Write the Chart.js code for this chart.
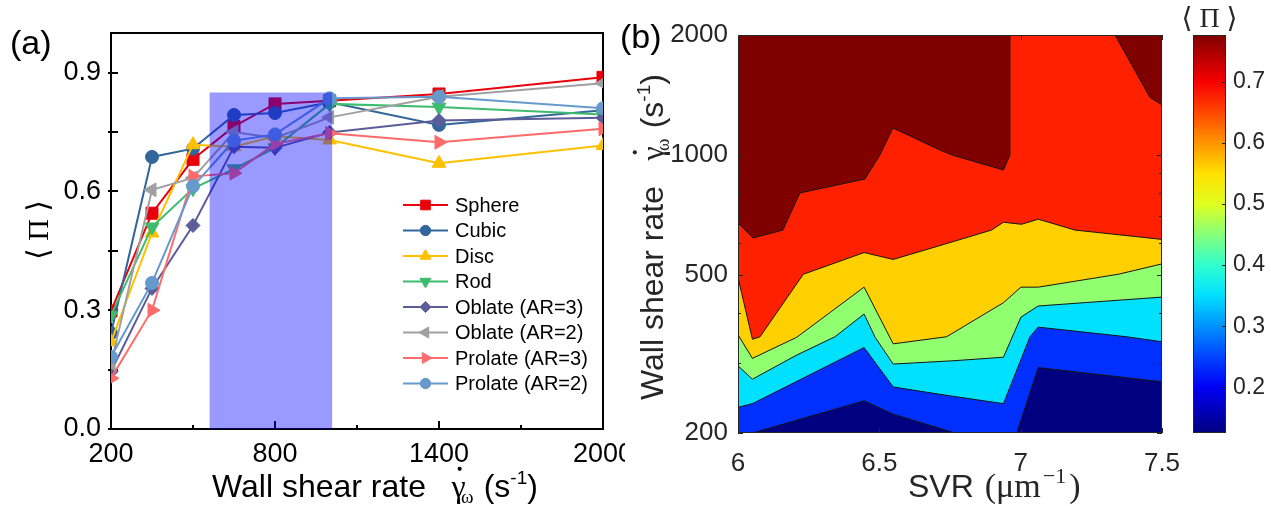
<!DOCTYPE html>
<html>
<head>
<meta charset="utf-8">
<title>Particle shape and SVR dependence of ⟨Π⟩</title>
<script src="https://cdn.jsdelivr.net/npm/chart.js@4.4.1/dist/chart.umd.min.js"></script>
<style>
  html, body { margin: 0; padding: 0; background: #fff; }
  #page { position: relative; width: 1271px; height: 506px; overflow: hidden; background: #fff; }
  #page canvas { position: absolute; top: 0; }
  #lineChart { left: 0; }
  #contourChart { left: 615px; }
  #cbarChart { left: 1180px; }
</style>
</head>
<body>
<div id="page">
  <canvas id="lineChart" width="625" height="506"></canvas>
  <canvas id="contourChart" width="570" height="506"></canvas>
  <canvas id="cbarChart" width="91" height="506"></canvas>
</div>
<script>
// ---------- panel (a): <Pi> against wall shear rate, one line per shape ----------
const shearRates = [200, 350, 500, 650, 800, 1000, 1400, 2000];
const shapeNames = ['Sphere', 'Cubic', 'Disc', 'Rod', 'Oblate (AR=3)', 'Oblate (AR=2)', 'Prolate (AR=3)', 'Prolate (AR=2)'];
const sphere   = [0.298, 0.545, 0.681, 0.764, 0.821, 0.829, 0.846, 0.888];
const cubic    = [0.242, 0.687, 0.708, 0.793, 0.798, 0.825, 0.768, 0.805];
const disc     = [0.220, 0.495, 0.718, 0.713, 0.739, 0.730, 0.671, 0.716];
const rod      = [0.287, 0.510, 0.607, 0.657, 0.710, 0.821, 0.813, 0.794];
const oblate3  = [0.145, 0.355, 0.514, 0.713, 0.710, 0.749, 0.779, 0.786];
const oblate2  = [0.165, 0.604, 0.634, 0.750, 0.735, 0.787, 0.839, 0.873];
const prolate3 = [0.128, 0.300, 0.638, 0.646, 0.720, 0.747, 0.724, 0.758];
const prolate2 = [0.182, 0.369, 0.613, 0.728, 0.744, 0.835, 0.839, 0.810];
const shearTicks = [200, 500, 800, 1100, 1400, 1700, 2000];
const shearLabels = [200, 800, 1400, 2000];
const piTicks = [0, 0.15, 0.3, 0.45, 0.6, 0.75, 0.9];
const piLabels = [0, 0.3, 0.6, 0.9];
// shaded shear-rate window
const windowRates = [560, 1010];
const windowTop = 0.85;

// ---------- panel (b): filled contours of <Pi> over SVR and wall shear rate ----------
const svrTicks = [6, 6.5, 7, 7.5];
const rateTicks = [200, 300, 400, 500, 600, 700, 800, 900, 1000, 2000];
const rateLabels = [200, 500, 1000, 2000];
// upper edge of each filled band, top band first
const edge0SVR  = [6.0, 7.5];
const edge0Rate = [2000, 2000];
const edge1SVR  = [6.0, 6.053, 6.159, 6.219, 6.449, 6.502, 6.548, 6.715, 6.757, 6.939, 6.962, 6.962, 7.334, 7.457, 7.5];
const edge1Rate = [674, 618, 647, 802, 869, 999, 1168, 1028, 999, 916, 999, 2000, 2000, 1395, 1334];
const edge2SVR  = [6.0, 6.051, 6.078, 6.231, 6.446, 6.549, 6.73, 6.897, 6.939, 7.003, 7.062, 7.192, 7.5];
const edge2Rate = [492, 344, 349, 501, 568, 546, 596, 647, 677, 669, 689, 647, 613];
const edge3SVR  = [6.0, 6.051, 6.208, 6.446, 6.549, 6.738, 6.939, 7.001, 7.062, 7.345, 7.5];
const edge3Rate = [353, 308, 348, 465, 335, 349, 425, 465, 465, 501, 532];
const edge4SVR  = [6.0, 6.051, 6.208, 6.343, 6.446, 6.485, 6.549, 6.768, 6.939, 7.001, 7.062, 7.5];
const edge4Rate = [295, 273, 314, 349, 398, 348, 298, 304, 310, 391, 417, 439];
const edge5SVR  = [6.0, 6.051, 6.446, 6.549, 6.732, 6.939, 7.033, 7.062, 7.375, 7.5];
const edge5Rate = [232, 237, 328, 261, 249, 237, 349, 369, 349, 339];
const edge6SVR  = [6.0, 6.051, 6.446, 6.549, 6.768, 6.986, 7.062, 7.5];
const edge6Rate = [200, 200, 241, 223, 200, 200, 292, 269];
const cbarMin = 0.125;
const cbarMax = 0.777;
const cbarTicks = [0.2, 0.3, 0.4, 0.5, 0.6, 0.7];

// ---------- styling ----------
const SANS = "'Liberation Sans', Arial, sans-serif";
const SERIF = "'Liberation Serif', 'DejaVu Serif', serif";
const GREY = '#262626';
Chart.defaults.font.family = SANS;

const shapeSeries = [sphere, cubic, disc, rod, oblate3, oblate2, prolate3, prolate2];
const shapeColors = ['#e8000b', '#33669a', '#ffc000', '#3dbb6e', '#5c5c99', '#a0a0a0', '#ff6b6b', '#6699cc'];
const shapeMarkers = [
  { style: 'rect', rot: 0, r: 8.5 },
  { style: 'circle', rot: 0, r: 6.5 },
  { style: 'triangle', rot: 0, r: 8 },
  { style: 'triangle', rot: 180, r: 8 },
  { style: 'rectRot', rot: 0, r: 7 },
  { style: 'triangle', rot: 270, r: 8 },
  { style: 'triangle', rot: 90, r: 8 },
  { style: 'circle', rot: 0, r: 6.5 },
];
const bandColors = ['#800000', '#ff2000', '#ffd000', '#90ff70', '#00e0ff', '#0030ff', '#000080'];
const bandEdges = [
  [edge0SVR, edge0Rate], [edge1SVR, edge1Rate], [edge2SVR, edge2Rate], [edge3SVR, edge3Rate],
  [edge4SVR, edge4Rate], [edge5SVR, edge5Rate], [edge6SVR, edge6Rate],
];
const cbarStops = [
  [0.125, '#000080'], [0.2, '#0000f5'], [0.25, '#0044ff'], [0.3, '#0092ff'], [0.35, '#00e0ff'],
  [0.4, '#30ffcf'], [0.45, '#86ff7a'], [0.5, '#e0ff20'], [0.55, '#ffe000'], [0.6, '#ff9500'],
  [0.65, '#ff4700'], [0.7, '#f80000'], [0.75, '#aa0000'], [0.777, '#800000'],
];

// keep the plot box where it is, whatever the end labels need
const noEdgePadding = s => { s.paddingLeft = 0; s.paddingRight = 0; s.paddingTop = 0; s.paddingBottom = 0; };

// text made of pieces (sub/superscripts, mixed fonts), drawn left to right from (x, y)
function drawParts(ctx, x, y, angle, parts, color) {
  ctx.save();
  ctx.translate(x, y);
  ctx.rotate(angle);
  ctx.fillStyle = color;
  ctx.textAlign = 'left';
  ctx.textBaseline = 'alphabetic';
  let cx = 0;
  for (const p of parts) {
    ctx.font = p.font;
    cx += p.gap || 0;
    ctx.fillText(p.text, cx, p.dy || 0);
    const w = ctx.measureText(p.text).width;
    if (p.dot) {
      ctx.beginPath();
      ctx.arc(cx + w / 2 + p.dot[0], p.dot[1], p.dot[2], 0, Math.PI * 2);
      ctx.fill();
    }
    cx += w;
  }
  ctx.restore();
}

function shearTitle(size) {
  const small = Math.round(size * 0.6);
  return [
    { text: 'Wall shear rate', font: `${size}px ${SANS}` },
    { text: 'γ', font: `${size}px ${SERIF}`, gap: 0.8 * size, dot: [1, -0.88 * size, 0.065 * size] },
    { text: 'ω', font: `${small}px ${SERIF}`, gap: -0.15 * size, dy: 0.2 * size },
    { text: '(s', font: `${size}px ${SANS}`, gap: 0.32 * size },
    { text: '-1', font: `${small}px ${SANS}`, dy: -0.42 * size },
    { text: ')', font: `${size}px ${SANS}` },
  ];
}

// ---------- panel (a) ----------
const lineSets = shapeNames.map((name, i) => ({
  label: name,
  data: shearRates.map((x, k) => ({ x, y: shapeSeries[i][k] })),
  borderColor: shapeColors[i],
  backgroundColor: shapeColors[i],
  borderWidth: 2,
  pointStyle: shapeMarkers[i].style,
  pointRotation: shapeMarkers[i].rot,
  pointRadius: shapeMarkers[i].r,
  pointBorderWidth: 1,
  fill: false,
  order: 20 - i,
}));
// translucent window drawn over the lines
lineSets.push({
  label: '',
  data: windowRates.map(x => ({ x, y: windowTop })),
  borderWidth: 0,
  pointRadius: 0,
  fill: 'origin',
  backgroundColor: 'rgba(0, 0, 255, 0.4)',
  order: 0,
});

const frameA = {
  id: 'frameA',
  beforeDatasetsDraw(chart) {
    const { ctx, chartArea: a, scales: { x, y } } = chart;
    ctx.save();
    ctx.strokeStyle = '#000';
    ctx.lineWidth = 2;
    ctx.strokeRect(a.left, a.top, a.right - a.left, a.bottom - a.top);
    ctx.beginPath();
    piTicks.forEach(v => {
      const py = Math.round(y.getPixelForValue(v));
      ctx.moveTo(a.left - 3, py);
      ctx.lineTo(a.left + 7, py);
    });
    shearTicks.forEach(v => {
      const px = Math.round(x.getPixelForValue(v));
      ctx.moveTo(px, a.bottom);
      ctx.lineTo(px, a.bottom - (shearLabels.includes(v) ? 8 : 4));
    });
    ctx.stroke();
    ctx.restore();
  },
  afterDraw(chart) {
    const ctx = chart.ctx;
    // legend: line sample with marker, then name
    chart.data.datasets.forEach((ds, i) => {
      if (!ds.label) return;
      const ly = 205 + i * 25.5;
      ctx.save();
      ctx.strokeStyle = ds.borderColor;
      ctx.fillStyle = ds.backgroundColor;
      ctx.lineWidth = 2;
      ctx.beginPath();
      ctx.moveTo(403, ly);
      ctx.lineTo(448, ly);
      ctx.stroke();
      ctx.lineWidth = 1;
      Chart.helpers.drawPoint(ctx, {
        pointStyle: ds.pointStyle, rotation: ds.pointRotation,
        radius: ds.pointRadius * 0.8, borderWidth: 1,
      }, 425.5, ly);
      ctx.fillStyle = '#000';
      ctx.font = `20px ${SANS}`;
      ctx.textBaseline = 'middle';
      ctx.textAlign = 'left';
      ctx.fillText(ds.label, 455, ly + 1);
      ctx.restore();
    });
    // panel letter and axis titles
    ctx.save();
    ctx.fillStyle = '#000';
    ctx.font = `34px ${SANS}`;
    ctx.textAlign = 'left';
    ctx.textBaseline = 'alphabetic';
    ctx.fillText('(a)', 10, 54);
    ctx.translate(48, 230);
    ctx.rotate(-Math.PI / 2);
    ctx.textAlign = 'center';
    ctx.font = `30px ${SERIF}`;
    ctx.fillText('⟨ Π ⟩', 0, 0);
    ctx.restore();
    drawParts(ctx, 212, 497, 0, shearTitle(32), '#000');
  },
};

new Chart(document.getElementById('lineChart'), {
  type: 'line',
  data: { datasets: lineSets },
  options: {
    responsive: false,
    animation: false,
    events: [],
    layout: { padding: { left: 0, right: 22, top: 33, bottom: 0 } },
    plugins: { legend: { display: false }, tooltip: { enabled: false } },
    scales: {
      x: {
        type: 'linear', min: 200, max: 2000,
        afterBuildTicks: s => { s.ticks = shearTicks.map(value => ({ value })); },
        afterFit: s => { s.height = 77; noEdgePadding(s); },
        grid: { display: false, drawTicks: false },
        border: { display: false },
        ticks: {
          autoSkip: false, maxRotation: 0, padding: 9, color: '#000',
          font: { size: 27 },
          callback: v => (shearLabels.includes(v) ? String(v) : ''),
        },
      },
      y: {
        type: 'linear', min: 0, max: 1.0,
        afterBuildTicks: s => { s.ticks = piTicks.map(value => ({ value })); },
        afterFit: s => { s.width = 111; noEdgePadding(s); },
        grid: { display: false, drawTicks: false },
        border: { display: false },
        ticks: {
          autoSkip: false, padding: 10, color: '#000',
          font: { size: 27 },
          callback: v => (piLabels.some(l => Math.abs(l - v) < 1e-9) ? v.toFixed(1) : ''),
        },
      },
    },
  },
  plugins: [frameA],
});

// ---------- panel (b) ----------
const bandSets = bandEdges.map(([xs, ys], i) => ({
  data: xs.map((x, k) => ({ x, y: ys[k] })),
  borderColor: '#151515',
  borderWidth: i === 0 ? 0 : 1,
  backgroundColor: bandColors[i],
  pointRadius: 0,
  fill: 'start',
  order: 20 - i,
}));

const frameB = {
  id: 'frameB',
  afterDatasetsDraw(chart) {
    const { ctx, chartArea: a, scales: { x, y } } = chart;
    ctx.save();
    ctx.strokeStyle = GREY;
    ctx.lineWidth = 1;
    ctx.strokeRect(a.left + 0.5, a.top + 0.5, a.right - a.left - 1, a.bottom - a.top - 1);
    ctx.beginPath();
    svrTicks.forEach(v => {
      const px = Math.round(x.getPixelForValue(v)) + 0.5;
      ctx.moveTo(px, a.bottom); ctx.lineTo(px, a.bottom - 5);
      ctx.moveTo(px, a.top); ctx.lineTo(px, a.top + 5);
    });
    rateTicks.forEach(v => {
      const py = Math.round(y.getPixelForValue(v)) + 0.5;
      const len = rateLabels.includes(v) ? 5 : 3;
      ctx.moveTo(a.left, py); ctx.lineTo(a.left + len, py);
      ctx.moveTo(a.right, py); ctx.lineTo(a.right - len, py);
    });
    ctx.stroke();
    ctx.restore();
  },
  afterDraw(chart) {
    const { ctx, chartArea: a } = chart;
    ctx.save();
    ctx.fillStyle = '#000';
    ctx.font = `34px ${SANS}`;
    ctx.textBaseline = 'alphabetic';
    ctx.fillText('(b)', 5, 48);
    ctx.restore();
    drawParts(ctx, a.left - 75, a.bottom - 33, -Math.PI / 2, shearTitle(32), GREY);
    drawParts(ctx, a.left + 170, a.bottom + 64, 0, [
      { text: 'SVR', font: `32px ${SANS}` },
      { text: '(μm', font: `34px ${SERIF}`, gap: 11 },
      { text: '−1', font: `22px ${SERIF}`, gap: 2, dy: -14 },
      { text: ')', font: `34px ${SERIF}`, gap: 3 },
    ], GREY);
  },
};

new Chart(document.getElementById('contourChart'), {
  type: 'line',
  data: { datasets: bandSets },
  options: {
    responsive: false,
    animation: false,
    events: [],
    layout: { padding: { left: 0, right: 23, top: 35, bottom: 0 } },
    plugins: { legend: { display: false }, tooltip: { enabled: false } },
    scales: {
      x: {
        type: 'linear', min: 6, max: 7.5,
        afterBuildTicks: s => { s.ticks = svrTicks.map(value => ({ value })); },
        afterFit: s => { s.height = 73; noEdgePadding(s); },
        grid: { display: false, drawTicks: false },
        border: { display: false },
        ticks: { autoSkip: false, maxRotation: 0, padding: 15, color: GREY, font: { size: 26 }, callback: v => String(v) },
      },
      y: {
        type: 'logarithmic', min: 200, max: 2000,
        afterBuildTicks: s => { s.ticks = rateTicks.map(value => ({ value })); },
        afterFit: s => { s.width = 123; noEdgePadding(s); },
        grid: { display: false, drawTicks: false },
        border: { display: false },
        ticks: {
          autoSkip: false, padding: 10, color: GREY, font: { size: 26 },
          callback: v => (rateLabels.includes(v) ? String(v) : ''),
        },
      },
    },
  },
  plugins: [frameB],
});

// ---------- colour bar ----------
const frameC = {
  id: 'frameC',
  afterDatasetsDraw(chart) {
    const { ctx, chartArea: a, scales: { y } } = chart;
    ctx.save();
    ctx.strokeStyle = GREY;
    ctx.lineWidth = 1;
    ctx.strokeRect(a.left + 0.5, a.top + 0.5, a.right - a.left - 1, a.bottom - a.top - 1);
    ctx.beginPath();
    cbarTicks.forEach(v => {
      const py = Math.round(y.getPixelForValue(v)) + 0.5;
      ctx.moveTo(a.right, py); ctx.lineTo(a.right - 4, py);
    });
    ctx.stroke();
    ctx.fillStyle = GREY;
    ctx.font = `28px ${SERIF}`;
    ctx.textAlign = 'center';
    ctx.textBaseline = 'alphabetic';
    ctx.fillText('⟨ Π ⟩', (a.left + a.right) / 2, 27);
    ctx.restore();
  },
};

new Chart(document.getElementById('cbarChart'), {
  type: 'bar',
  data: {
    labels: [''],
    datasets: [{
      data: [[cbarMin, cbarMax]],
      barPercentage: 1,
      categoryPercentage: 1,
      borderWidth: 0,
      backgroundColor: c => {
        const chart = c.chart;
        if (!chart.chartArea || !chart.scales.y) return bandColors[0];
        const ys = chart.scales.y;
        const g = chart.ctx.createLinearGradient(0, ys.getPixelForValue(cbarMin), 0, ys.getPixelForValue(cbarMax));
        cbarStops.forEach(([v, col]) => g.addColorStop((v - cbarMin) / (cbarMax - cbarMin), col));
        return g;
      },
    }],
  },
  options: {
    responsive: false,
    animation: false,
    events: [],
    layout: { padding: { left: 13, right: 0, top: 35, bottom: 73 } },
    plugins: { legend: { display: false }, tooltip: { enabled: false } },
    scales: {
      x: { display: false },
      y: {
        position: 'right', min: cbarMin, max: cbarMax,
        afterBuildTicks: s => { s.ticks = cbarTicks.map(value => ({ value })); },
        afterFit: s => { s.width = 45; noEdgePadding(s); },
        grid: { display: false, drawTicks: false },
        border: { display: false },
        ticks: { autoSkip: false, padding: 7, color: GREY, font: { size: 23 }, callback: v => v.toFixed(1) },
      },
    },
  },
  plugins: [frameC],
});
</script>
</body>
</html>
